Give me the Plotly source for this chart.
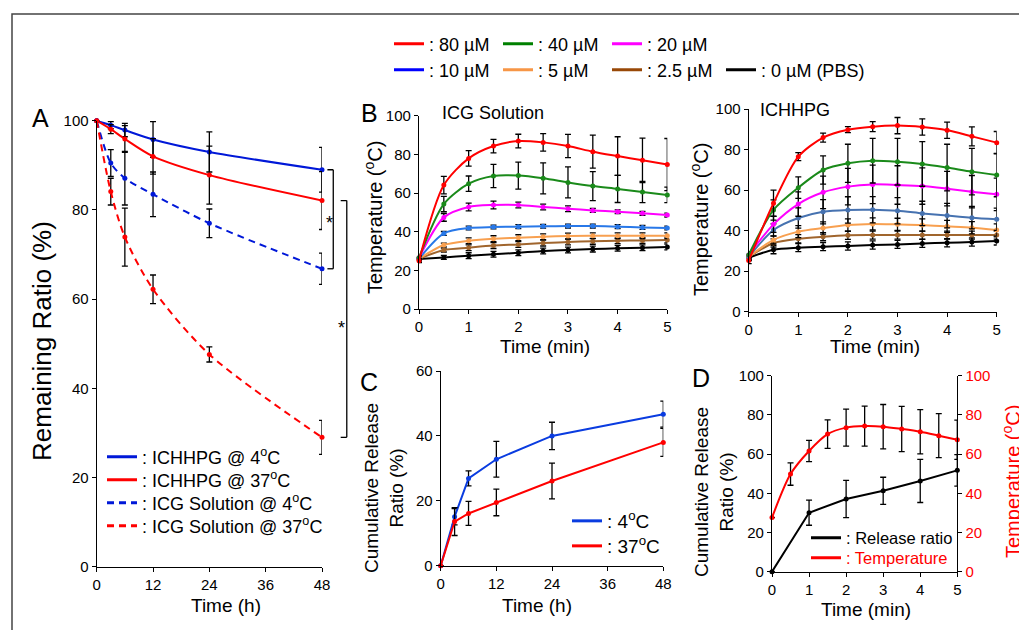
import plotly.graph_objects as go

W, H = 1027, 630

# ---- panel A: remaining ratio (%) vs time (h)
time_a = [0, 3, 6, 12, 24, 48]
gel_4c = [100, 99.0, 97.9, 95.8, 93.0, 89.0]
gel_4c_err = [0, 0.8, 1.5, 4.0, 4.5, 5.0]
gel_37c = [100, 98.1, 95.9, 92.0, 87.8, 82.1]
gel_37c_err = [0, 1.0, 3.0, 4.0, 6.5, 6.5]
sol_4c = [100, 90.5, 87.1, 83.5, 77.0, 66.8]
sol_4c_err = [0, 3.0, 6.0, 5.0, 3.2, 3.5]
sol_37c = [100, 84.1, 73.9, 62.2, 47.6, 29.0]
sol_37c_err = [0, 3.0, 6.5, 3.2, 1.7, 3.8]

# ---- panel B: temperature (oC) vs time (min)
time_b = [0, 0.5, 1, 1.5, 2, 2.5, 3, 3.5, 4, 4.5, 5]
conc_labels = ["80", "40", "20", "10", "5", "2.5", "0"]
sol_temp = {
    "80": [25.0, 64.1, 77.9, 84.3, 86.9, 86.2, 84.3, 81.4, 79.1, 76.9, 74.7],
    "40": [26.5, 54.3, 64.8, 68.8, 69.0, 67.6, 65.5, 63.6, 62.1, 60.5, 59.0],
    "20": [26.5, 47.4, 52.8, 53.8, 53.8, 52.8, 51.9, 51.0, 50.3, 49.5, 48.6],
    "10": [26.0, 39.1, 41.9, 42.4, 42.6, 42.8, 42.9, 42.9, 42.6, 42.2, 41.9],
    "5": [26.0, 33.1, 35.3, 36.4, 36.9, 37.4, 37.8, 37.9, 37.9, 37.9, 37.9],
    "2.5": [26.0, 30.5, 31.7, 32.8, 33.4, 34.1, 34.7, 35.0, 35.3, 35.5, 35.7],
    "0": [25.9, 26.7, 27.6, 28.3, 29.1, 30.0, 30.5, 31.0, 31.4, 31.7, 32.1],
}
sol_temp_err = {
    "80": [1.0, 4.5, 4.0, 3.5, 3.5, 4.5, 6.0, 8.5, 10.0, 11.5, 13.5],
    "40": [1.0, 4.0, 4.0, 6.0, 7.0, 8.0, 8.0, 7.5, 7.0, 5.5, 4.0],
    "20": [1.0, 2.0, 2.0, 2.0, 1.5, 1.5, 1.5, 1.0, 1.0, 1.0, 1.0],
    "10": [1.0, 1.0, 1.0, 1.0, 1.0, 1.0, 1.0, 1.0, 1.0, 1.0, 1.0],
    "5": [1.0, 1.0, 1.5, 1.5, 1.5, 1.5, 1.5, 1.5, 1.5, 1.5, 1.5],
    "2.5": [1.0, 1.0, 1.5, 1.5, 1.5, 1.5, 1.5, 1.5, 1.5, 1.5, 1.5],
    "0": [1.0, 1.0, 1.5, 1.5, 1.5, 1.5, 1.5, 1.5, 1.5, 1.5, 1.5],
}
gel_temp = {
    "80": [25.2, 53.5, 76.5, 85.9, 89.8, 91.3, 91.8, 91.1, 89.5, 86.5, 83.4],
    "40": [28.0, 50.2, 61.2, 69.9, 73.2, 74.5, 74.0, 72.9, 71.1, 69.1, 67.4],
    "20": [28.0, 43.1, 53.1, 58.9, 61.7, 62.8, 62.5, 62.0, 60.7, 59.2, 57.9],
    "10": [27.0, 40.3, 46.2, 49.3, 50.2, 50.3, 49.8, 48.5, 47.4, 46.4, 45.6],
    "5": [27.0, 35.4, 39.5, 41.3, 42.8, 43.3, 43.1, 42.8, 42.1, 41.4, 40.3],
    "2.5": [27.0, 33.9, 36.0, 37.0, 37.7, 37.8, 37.8, 37.8, 37.8, 37.8, 37.8],
    "0": [26.6, 30.6, 31.6, 32.1, 32.4, 32.9, 33.2, 33.7, 34.0, 34.4, 34.9],
}
gel_temp_err = {
    "80": [1.5, 6.5, 2.0, 2.2, 1.5, 2.5, 4.0, 4.0, 4.0, 4.7, 5.5],
    "40": [1.5, 5.0, 5.3, 7.0, 9.4, 11.0, 11.5, 11.0, 11.5, 11.5, 10.7],
    "20": [1.5, 4.0, 6.0, 8.0, 9.0, 9.5, 9.5, 9.0, 8.5, 8.0, 8.0],
    "10": [1.5, 3.0, 5.0, 6.0, 6.5, 6.5, 6.5, 6.0, 6.0, 5.5, 5.5],
    "5": [1.5, 2.0, 3.0, 3.0, 3.0, 3.0, 3.0, 3.0, 3.0, 3.0, 3.0],
    "2.5": [1.5, 2.0, 2.0, 2.0, 2.0, 2.0, 2.0, 2.0, 2.0, 2.0, 2.0],
    "0": [1.5, 2.0, 2.0, 2.0, 2.0, 2.0, 2.0, 2.0, 2.0, 2.0, 2.0],
}

# ---- panel C: cumulative release (%) vs time (h)
time_c = [0, 3, 6, 12, 24, 48]
rel_4c = [0, 15.1, 26.9, 32.8, 40.0, 46.7]
rel_4c_err = [0, 2.5, 2.3, 5.5, 4.2, 4.0]
rel_37c = [0, 13.6, 16.1, 19.5, 26.1, 38.0]
rel_37c_err = [0, 4.3, 3.7, 4.1, 5.5, 4.3]

# ---- panel D: release ratio + temperature vs time (min)
time_d_rel = [0, 1, 2, 3, 4, 5]
rel_ratio = [0, 30.1, 37.1, 41.3, 46.3, 51.7]
rel_ratio_err = [0, 6.4, 9.5, 6.9, 11.0, 8.0]
time_d_temp = [0, 0.5, 1, 1.5, 2, 2.5, 3, 3.5, 4, 4.5, 5]
temp_d = [27.6, 49.8, 61.6, 70.2, 73.5, 74.3, 74.0, 72.8, 71.4, 69.4, 67.3]
temp_d_err = [0, 5.7, 5.4, 7.3, 9.4, 10.2, 11.3, 11.5, 11.3, 11.2, 10.0]

legend_colors = ["#ff0000", "#008000", "#ff00ff", "#0000ff", "#f79646", "#984807", "#000000"]
sol_colors = ["#ff0000", "#1a8a1a", "#ff00ff", "#2878e8", "#f8a050", "#a0652d", "#000000"]
gel_colors = ["#ff0000", "#1a8a1a", "#ff00ff", "#4672b0", "#f8a050", "#a0652d", "#000000"]

FONT = "Arial, Liberation Sans, sans-serif"
OFF = 8  # page body margin


def px(x):
    return (x - OFF) / W


def py(y):
    return 1 - (y - OFF) / H


def err(vals):
    return dict(type="data", array=vals, color="black", thickness=1.3, width=3)


fig = go.Figure()


def line_trace(x, y, e, color, xa, ya, dash="solid", shape="spline", size=5):
    fig.add_trace(go.Scatter(
        x=x, y=y, mode="lines+markers", xaxis=xa, yaxis=ya,
        line=dict(color=color, width=2, dash=dash, shape=shape, smoothing=0.8),
        marker=dict(color=color, size=size), error_y=err(e),
        cliponaxis=False, showlegend=False))


def legend_item(name, color, legend, dash="solid", xa="x", ya="y"):
    fig.add_trace(go.Scatter(x=[None], y=[None], mode="lines", name=name, xaxis=xa, yaxis=ya,
                             line=dict(color=color, width=3, dash=dash), legend=legend))


# panel A
line_trace(time_a, gel_4c, gel_4c_err, "#0018d8", "x", "y")
line_trace(time_a, gel_37c, gel_37c_err, "#ff0000", "x", "y")
line_trace(time_a, sol_4c, sol_4c_err, "#0018d8", "x", "y", dash="7px,5px")
line_trace(time_a, sol_37c, sol_37c_err, "#ff0000", "x", "y", dash="7px,5px")

legend_item(": ICHHPG @ 4<sup>o</sup>C", "#0018d8", "legend2")
legend_item(": ICHHPG @ 37<sup>o</sup>C", "#ff0000", "legend7")
legend_item(": ICG Solution @ 4<sup>o</sup>C", "#0018d8", "legend8", dash="7px,5px")
legend_item(": ICG Solution @ 37<sup>o</sup>C", "#ff0000", "legend9", dash="7px,5px")

# panel B
for i, k in enumerate(conc_labels[::-1]):
    j = len(conc_labels) - 1 - i
    line_trace(time_b, sol_temp[k], sol_temp_err[k], sol_colors[j], "x2", "y2")
    line_trace(time_b, gel_temp[k], gel_temp_err[k], gel_colors[j], "x3", "y3")

for i, k in enumerate(conc_labels):
    name = ": %s \u00b5M" % k + (" (PBS)" if k == "0" else "")
    lg = "legend" if i < 3 else ("legend5" if i < 6 else "legend6")
    legend_item(name, legend_colors[i], lg, xa="x2", ya="y2")

# panel C
line_trace(time_c, rel_4c, rel_4c_err, "#0a3ce0", "x4", "y4", shape="linear")
line_trace(time_c, rel_37c, rel_37c_err, "#ff0000", "x4", "y4", shape="linear")
legend_item(": 4<sup>o</sup>C", "#0a3ce0", "legend3", xa="x4", ya="y4")
legend_item(": 37<sup>o</sup>C", "#ff0000", "legend10", xa="x4", ya="y4")

# panel D
line_trace(time_d_rel, rel_ratio, rel_ratio_err, "#000000", "x5", "y5", shape="linear")
line_trace(time_d_temp, temp_d, temp_d_err, "#ff0000", "x5", "y6")
legend_item(": Release ratio", "black", "legend4", xa="x5", ya="y5")
legend_item("<span style='color:#ff0000'>: Temperature</span>", "#ff0000", "legend11", xa="x5", ya="y5")


def ax(domain, rng, dtick, anchor, **kw):
    d = dict(domain=domain, range=rng, dtick=dtick, anchor=anchor, showline=True, linecolor="black",
             linewidth=1.2, ticks="outside", ticklen=4, tickcolor="black", showgrid=False, zeroline=False,
             tickfont=dict(size=15, color="black", family=FONT), tick0=0, automargin=False)
    d.update(kw)
    return d


fig.update_layout(
    width=W, height=H, margin=dict(l=0, r=0, t=0, b=0, autoexpand=False),
    paper_bgcolor="white", plot_bgcolor="white",
    font=dict(family=FONT, color="black"),
    xaxis=ax([px(96.7), px(322)], [0, 48], 12, "y"),
    yaxis=ax([py(566.7), py(120.7)], [0, 100], 20, "x"),
    xaxis2=ax([px(419), px(667.3)], [0, 5], 1, "y2"),
    yaxis2=ax([py(309), py(115.7)], [0, 100], 20, "x2"),
    xaxis3=ax([px(748.7), px(996.7)], [0, 5], 1, "y3"),
    yaxis3=ax([py(311.7), py(109)], [0, 100], 20, "x3"),
    xaxis4=ax([px(440.7), px(663.3)], [0, 48], 12, "y4"),
    yaxis4=ax([py(565.7), py(371)], [0, 60], 20, "x4"),
    xaxis5=ax([px(772), px(957.3)], [0, 5], 1, "y5"),
    yaxis5=ax([py(571.7), py(375.7)], [0, 100], 20, "x5"),
    yaxis6=ax([py(571.7), py(375.7)], [0, 100], 20, "x5", overlaying="y5", side="right",
              tickfont=dict(size=15, color="#ff0000", family=FONT)),
)

leg = dict(bgcolor="rgba(0,0,0,0)", borderwidth=0, orientation="v", xanchor="left", yanchor="middle",
           itemclick=False, itemdoubleclick=False)
top = dict(leg, orientation="h", entrywidth=64, entrywidthmode="pixels", font=dict(size=18, family=FONT))
fig.update_layout(
    legend=dict(top, x=px(389), y=py(44)),
    legend5=dict(top, x=px(389), y=py(70)),
    legend6=dict(top, x=px(721), y=py(70), entrywidth=0),
    legend2=dict(leg, x=px(102), y=py(457), font=dict(size=18, family=FONT)),
    legend7=dict(leg, x=px(102), y=py(480), font=dict(size=18, family=FONT)),
    legend8=dict(leg, x=px(102), y=py(503), font=dict(size=18, family=FONT)),
    legend9=dict(leg, x=px(102), y=py(526), font=dict(size=18, family=FONT)),
    legend3=dict(leg, x=px(567), y=py(521), font=dict(size=19, family=FONT)),
    legend10=dict(leg, x=px(567), y=py(546), font=dict(size=19, family=FONT)),
    legend4=dict(leg, x=px(806), y=py(538), font=dict(size=16.5, family=FONT)),
    legend11=dict(leg, x=px(806), y=py(558), font=dict(size=16.5, family=FONT)),
)

ann = []


def text(x, y, s, size, color="black", angle=0, xanchor="center"):
    ann.append(dict(x=px(x), y=py(y), xref="paper", yref="paper", text=s, showarrow=False,
                    font=dict(size=size, color=color, family=FONT), textangle=angle,
                    xanchor=xanchor, yanchor="middle"))


# panel letters and titles
text(40, 118, "A", 25)
text(369, 113, "B", 25)
text(369, 382, "C", 25)
text(701, 378, "D", 25)
text(493, 113, "ICG Solution", 18)
text(795, 110, "ICHHPG", 18)
# axis titles
text(42, 341, "Remaining Ratio (%)", 26, angle=-90)
text(226, 605, "Time (h)", 19)
text(374, 218, "Temperature (<sup>o</sup>C)", 20, angle=-90)
text(545, 346, "Time (min)", 19)
text(699, 220, "Temperature (<sup>o</sup>C)", 20, angle=-90)
text(875, 346, "Time (min)", 19)
text(384, 488, "Cumulative Release<br>Ratio (%)", 19, angle=-90)
text(537, 605, "Time (h)", 19)
text(714, 492, "Cumulative Release<br>Ratio (%)", 19, angle=-90)
text(1011, 482, "Temperature (<sup>o</sup>C)", 20, color="#ff0000", angle=-90)
text(866, 609, "Time (min)", 19)

# significance stars in panel A
ann.append(dict(x=1.033, y=(gel_4c[-1] + sol_4c[-1]) / 2, xref="x domain", yref="y", text="*",
                showarrow=False, xanchor="center", yshift=-4, font=dict(size=18, family=FONT)))
ann.append(dict(x=1.085, y=(gel_37c[-1] + sol_37c[-1]) / 2, xref="x domain", yref="y", text="*",
                showarrow=False, xanchor="center", yshift=-9, font=dict(size=18, family=FONT)))
fig.update_layout(annotations=ann)

shapes = []
for xin, xout, top_v, bot_v in [(1.024, 1.05, gel_4c[-1], sol_4c[-1]), (1.083, 1.11, gel_37c[-1], sol_37c[-1])]:
    for (x0, y0, x1, y1) in [(xin, top_v, xout, top_v), (xout, top_v, xout, bot_v), (xout, bot_v, xin, bot_v)]:
        shapes.append(dict(type="line", xref="x domain", yref="y", x0=x0, y0=y0, x1=x1, y1=y1,
                           line=dict(color="black", width=1.3)))
# outer frame
shapes.append(dict(type="rect", xref="paper", yref="paper", x0=px(12), y0=py(14), x1=1.05, y1=-0.05,
                   line=dict(color="#444", width=1.5)))
fig.update_layout(shapes=shapes)

fig.write_html("out.html")
